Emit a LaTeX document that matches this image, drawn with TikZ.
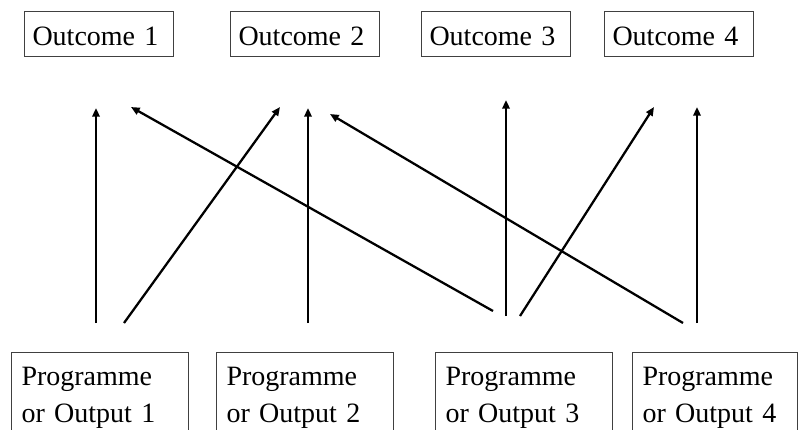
\documentclass[tikz,border=0pt]{standalone}
\usepackage{fontspec}
\setmainfont{Liberation Serif}
\usetikzlibrary{arrows.meta,calc}
\begin{document}
\begin{tikzpicture}[x=0.75pt,y=-0.75pt,
  boxfont/.style={font=\fontsize{21pt}{27.75pt}\selectfont},
  outcome/.style={boxfont, draw=black!75, line width=0.75pt, anchor=north west,
    inner xsep=6pt, inner ysep=0pt, text width=99.75pt, align=left,
    minimum height=33.75pt, text height=17.25pt, text depth=0pt},
  prog/.style={boxfont, draw=black!75, line width=0.75pt, anchor=north west,
    inner xsep=7.5pt, inner ysep=0pt, text width=117.75pt, align=left,
    text height=24.75pt, text depth=50pt},
  link/.style={line width=1.7pt, -{Triangle[length=6.5pt,width=5.5pt]}}]
  \useasboundingbox (0,0) rectangle (798,429);
  \clip (0,0) rectangle (798,429);

  % outcomes along the top
  \node[outcome] (o1) at (24,11)  {Outcome 1};
  \node[outcome] (o2) at (230,11) {Outcome 2};
  \node[outcome] (o3) at (421,11) {Outcome 3};
  \node[outcome] (o4) at (604,11) {Outcome 4};

  % programmes / outputs along the bottom
  \node[prog] (p1) at (11,352)  {Programme\\or Output 1};
  \node[prog] (p2) at (216,352) {Programme\\or Output 2};
  \node[prog] (p3) at (435,352) {Programme\\or Output 3};
  \node[prog, text width=108.75pt] (p4) at (632,352) {Programme\\or Output 4};

  % contributions from each programme to the outcomes
  \draw[link] ($(p1.north west)+(85,-29)$)  -- ($(o1.south west)+(72,51)$);
  \draw[link] ($(p1.north west)+(113,-29)$) -- ($(o2.south west)+(50,50)$);
  \draw[link] ($(p3.north west)+(58,-41)$)  -- ($(o1.south west)+(107,50)$);
  \draw[link] ($(p2.north west)+(92,-29)$)  -- ($(o2.south west)+(78,51)$);
  \draw[link] ($(p4.north west)+(51,-29)$)  -- ($(o2.south west)+(100,57)$);
  \draw[link] ($(p3.north west)+(71,-36)$)  -- ($(o3.south west)+(85,43)$);
  \draw[link] ($(p3.north west)+(85,-36)$)  -- ($(o4.south west)+(50,50)$);
  \draw[link] ($(p4.north west)+(65,-29)$)  -- ($(o4.south west)+(93,50)$);
\end{tikzpicture}
\end{document}
